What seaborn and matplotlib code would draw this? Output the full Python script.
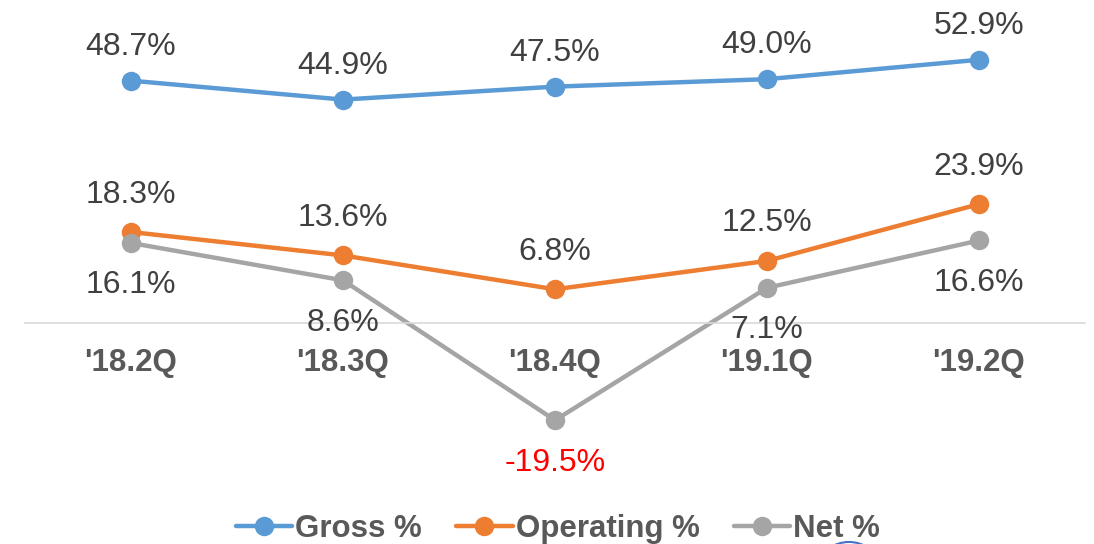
import matplotlib as mpl
mpl.use('Agg')
import matplotlib.pyplot as plt
from matplotlib.patches import Ellipse
import pandas as pd
import seaborn as sns

quarters = ["'18.2Q", "'18.3Q", "'18.4Q", "'19.1Q", "'19.2Q"]
gross = [48.7, 44.9, 47.5, 49.0, 52.9]
operating = [18.3, 13.6, 6.8, 12.5, 23.9]
net = [16.1, 8.6, -19.5, 7.1, 16.6]

series_names = ['Gross %', 'Operating %', 'Net %']
colors = ['#5B9BD5', '#ED7D31', '#A5A5A5']

sns.set_theme(style='white')
plt.rcParams['font.family'] = ['Liberation Sans', 'DejaVu Sans']

df = pd.DataFrame({'quarter': quarters * 3,
                   'value': gross + operating + net,
                   'series': sum([[s] * len(quarters) for s in series_names], [])})

W, H = 1094, 544
fig = plt.figure(figsize=(W / 100, H / 100), dpi=100)
# axes in pixel coords: x 25..1085, y 1..474
ax = fig.add_axes([25 / W, 1 - 474 / H, 1060 / W, 473 / H])

sns.lineplot(data=df, x='quarter', y='value', hue='series', palette=colors,
             hue_order=series_names, sort=False, marker='o', markersize=14,
             markeredgewidth=0, linewidth=3.2, ax=ax)

ax.set_xlim(-0.5, 4.5)
ax.set_ylim(-30.3, 64.7)
ax.set_xlabel('')
ax.set_ylabel('')
ax.set_yticks([])
for s in ['top', 'left', 'right']:
    ax.spines[s].set_visible(False)
ax.spines['bottom'].set_position(('data', 0))
ax.spines['bottom'].set_color('#D9D9D9')
ax.spines['bottom'].set_linewidth(1.2)
ax.tick_params(axis='x', length=0, pad=18, labelsize=22.5, labelcolor='#595959')
for t in ax.get_xticklabels():
    t.set_fontweight('bold')

offsets = [24.5, 27, -30.5]
for vals, off in zip([gross, operating, net], offsets):
    for i, v in enumerate(vals):
        ax.annotate(f'{v:.1f}%', (i, v), xytext=(0, off), textcoords='offset points',
                    ha='center', va='center', fontsize=23,
                    color='#FF0000' if v < 0 else '#404040')

leg = ax.legend(loc='center', bbox_to_anchor=(558 / W, 1 - 529 / H),
                bbox_transform=fig.transFigure, ncol=3, frameon=False,
                fontsize=22.5, handlelength=1.8, handletextpad=0.1,
                columnspacing=1.1, borderaxespad=0)
for t in leg.get_texts():
    t.set_color('#595959')
    t.set_fontweight('bold')

# small blue outline peeking in at the bottom edge
fig.patches.append(Ellipse((849 / W, 1 - 564 / H), 56 / W, 44 / H,
                           transform=fig.transFigure, fill=False,
                           edgecolor='#4472C4', linewidth=1.5))

fig.savefig('out.png', dpi=100)
